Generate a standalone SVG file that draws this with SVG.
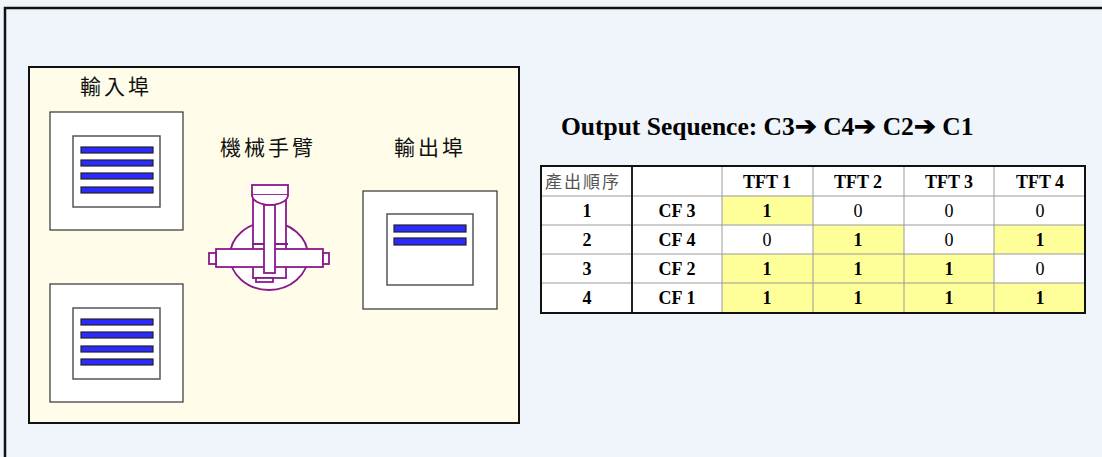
<svg xmlns="http://www.w3.org/2000/svg" width="1102" height="457" viewBox="0 0 1102 457">
  <style>
    .frame { fill: none; stroke: #111; stroke-width: 2.5; }
    .panel { fill: #fffde9; stroke: #111; stroke-width: 2; }
    .tray { fill: #fff; stroke: #333; stroke-width: 1.2; }
    .cass { fill: #fff; stroke: #555; stroke-width: 1.5; }
    .glass { fill: #2b2bff; stroke: #222; stroke-width: 1.2; }
    .cjk { font-family: "Noto Sans CJK TC", "Noto Sans CJK SC", sans-serif; font-size: 21px; fill: #111; letter-spacing: 3px; }
    .robot { fill: #fff; stroke: #8a1a8a; stroke-width: 1.8; }
    .title { font-family: "Liberation Serif", serif; font-weight: bold; font-size: 25.5px; fill: #000; }
    .cell { font-family: "Liberation Serif", serif; font-size: 18px; fill: #000; text-anchor: middle; }
    .b { font-weight: bold; }
    .hl { fill: #ffff99; }
    .grid { stroke: #9a9a9a; stroke-width: 1; }
  </style>

  <!-- page background and frame -->
  <rect x="0" y="0" width="1102" height="457" fill="#f0f4fb"/>
  <path class="frame" d="M1102 8 H5 V457"/>

  <!-- equipment panel -->
  <g id="panel">
    <rect class="panel" x="29" y="67" width="490" height="356"/>
  </g>

  <!-- input port 1 -->
  <g id="input-port">
    <text class="cjk" x="80" y="94">輸入埠</text>
    <rect class="tray" x="50" y="112" width="133" height="118"/>
    <rect class="cass" x="73" y="136" width="87" height="71"/>
    <rect class="glass" x="81" y="147" width="72" height="6"/>
    <rect class="glass" x="81" y="160" width="72" height="6"/>
    <rect class="glass" x="81" y="173" width="72" height="6"/>
    <rect class="glass" x="81" y="187" width="72" height="6"/>
  </g>

  <!-- input port 2 -->
  <g id="input-port-2">
    <rect class="tray" x="50" y="284" width="133" height="118"/>
    <rect class="cass" x="73" y="308" width="87" height="71"/>
    <rect class="glass" x="81" y="319" width="72" height="6"/>
    <rect class="glass" x="81" y="332" width="72" height="6"/>
    <rect class="glass" x="81" y="346" width="72" height="6"/>
    <rect class="glass" x="81" y="359" width="72" height="6"/>
  </g>

  <!-- robot arm -->
  <g id="robot-arm">
    <text class="cjk" x="220" y="155">機械手臂</text>
    <ellipse class="robot" cx="269" cy="256" rx="39" ry="34"/>
    <rect class="robot" x="253" y="195" width="33" height="83"/>
    <line class="robot" x1="252" y1="244" x2="288" y2="244"/>
    <rect class="robot" x="252" y="185" width="36" height="10"/>
    <path class="robot" d="M252 195 A18 10 0 0 0 288 195"/>
    <rect class="robot" x="216" y="249" width="107" height="18"/>
    <rect class="robot" x="209" y="253" width="7" height="11"/>
    <rect class="robot" x="323" y="253" width="6" height="11"/>
    <rect class="robot" x="264" y="205" width="11" height="68"/>
    <rect class="robot" x="256" y="278" width="17" height="4"/>
  </g>

  <!-- output port -->
  <g id="output-port">
    <text class="cjk" x="394" y="155">輸出埠</text>
    <rect class="tray" x="363" y="191" width="134" height="118"/>
    <rect class="cass" x="387" y="214" width="86" height="71"/>
    <rect class="glass" x="394" y="225" width="72" height="7"/>
    <rect class="glass" x="394" y="238" width="72" height="7"/>
  </g>

  <!-- output sequence heading -->
  <g id="sequence-title">
    <text class="title" x="561" y="135">Output Sequence: C3➔ C4➔ C2➔ C1</text>
  </g>

  <!-- production order table -->
  <g id="order-table">
    <rect x="541" y="166" width="544" height="147" fill="#fff"/>
    <rect class="hl" x="722" y="196" width="91" height="29"/>
    <rect class="hl" x="813" y="225" width="91" height="29"/>
    <rect class="hl" x="994" y="225" width="91" height="29"/>
    <rect class="hl" x="722" y="254" width="272" height="29"/>
    <rect class="hl" x="722" y="283" width="363" height="30"/>
    <g class="grid">
      <line x1="541" y1="196" x2="1085" y2="196"/>
      <line x1="541" y1="225" x2="1085" y2="225"/>
      <line x1="541" y1="254" x2="1085" y2="254"/>
      <line x1="541" y1="283" x2="1085" y2="283"/>
      <line x1="722" y1="166" x2="722" y2="313"/>
      <line x1="813" y1="166" x2="813" y2="313"/>
      <line x1="904" y1="166" x2="904" y2="313"/>
      <line x1="994" y1="166" x2="994" y2="313"/>
    </g>
    <line x1="632" y1="166" x2="632" y2="313" stroke="#222" stroke-width="2"/>
    <rect x="541" y="166" width="544" height="147" fill="none" stroke="#111" stroke-width="2"/>

    <text x="545" y="188" font-family="Noto Sans CJK TC, sans-serif" font-size="17" fill="#555" letter-spacing="2">產出順序</text>
    <text class="cell b" x="767" y="188">TFT 1</text>
    <text class="cell b" x="858" y="188">TFT 2</text>
    <text class="cell b" x="949" y="188">TFT 3</text>
    <text class="cell b" x="1040" y="188">TFT 4</text>

    <text class="cell b" x="587" y="217">1</text>
    <text class="cell b" x="677" y="217">CF 3</text>
    <text class="cell b" x="767" y="217">1</text>
    <text class="cell" x="858" y="217">0</text>
    <text class="cell" x="949" y="217">0</text>
    <text class="cell" x="1040" y="217">0</text>

    <text class="cell b" x="587" y="246">2</text>
    <text class="cell b" x="677" y="246">CF 4</text>
    <text class="cell" x="767" y="246">0</text>
    <text class="cell b" x="858" y="246">1</text>
    <text class="cell" x="949" y="246">0</text>
    <text class="cell b" x="1040" y="246">1</text>

    <text class="cell b" x="587" y="275">3</text>
    <text class="cell b" x="677" y="275">CF 2</text>
    <text class="cell b" x="767" y="275">1</text>
    <text class="cell b" x="858" y="275">1</text>
    <text class="cell b" x="949" y="275">1</text>
    <text class="cell" x="1040" y="275">0</text>

    <text class="cell b" x="587" y="304">4</text>
    <text class="cell b" x="677" y="304">CF 1</text>
    <text class="cell b" x="767" y="304">1</text>
    <text class="cell b" x="858" y="304">1</text>
    <text class="cell b" x="949" y="304">1</text>
    <text class="cell b" x="1040" y="304">1</text>
  </g>

  <!-- no connectors in this layout -->
  <g id="connectors"/>
</svg>
